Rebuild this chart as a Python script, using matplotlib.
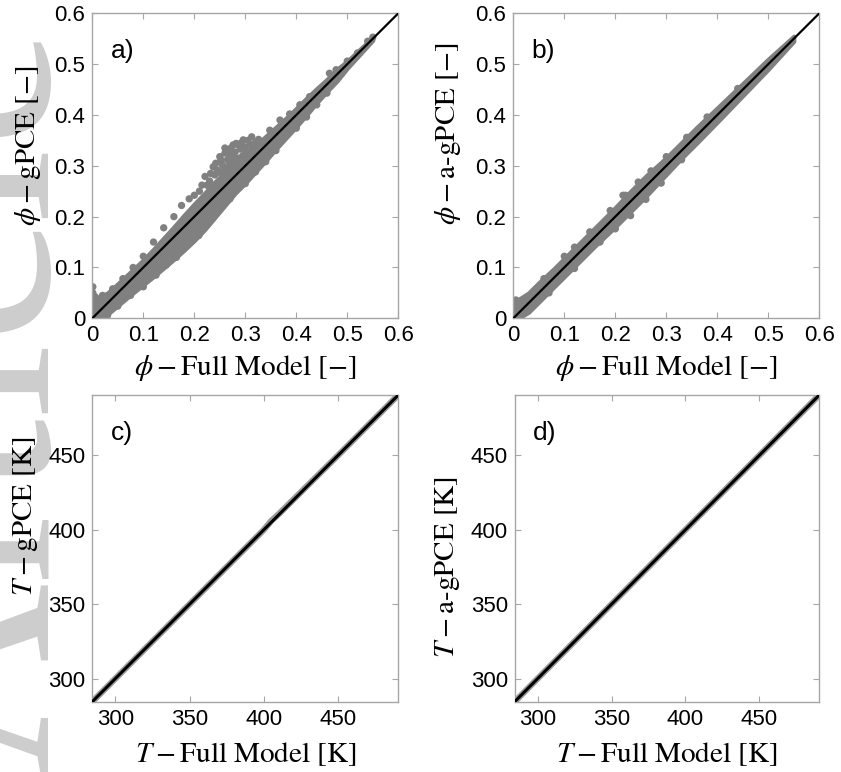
import matplotlib
matplotlib.use("Agg")
import matplotlib.pyplot as plt

plt.rcParams['font.family'] = ['Liberation Sans', 'DejaVu Sans']
plt.rcParams['mathtext.fontset'] = 'stix'

# ---------------- data ----------------
# panel a: phi, gPCE vs full model -- dense core envelope + individual points
a_env_x  = [0.00, 0.01, 0.03, 0.05, 0.08, 0.10, 0.12, 0.14, 0.16, 0.18, 0.20, 0.22, 0.24, 0.26, 0.28, 0.30, 0.32, 0.34, 0.36, 0.38, 0.40, 0.42, 0.44, 0.46, 0.48, 0.50, 0.55]
a_env_hi = [0.040, 0.040, 0.050, 0.068, 0.096, 0.115, 0.136, 0.158, 0.180, 0.203, 0.225, 0.246, 0.268, 0.288, 0.306, 0.322, 0.340, 0.358, 0.376, 0.394, 0.413, 0.433, 0.452, 0.470, 0.490, 0.506, 0.553]
a_env_lo = [0.000, 0.000, 0.008, 0.025, 0.050, 0.066, 0.082, 0.099, 0.116, 0.134, 0.153, 0.174, 0.198, 0.222, 0.246, 0.266, 0.288, 0.310, 0.333, 0.355, 0.377, 0.400, 0.424, 0.446, 0.467, 0.492, 0.547]
a_pts_x = [0.001, 0.001, 0.002, 0.002, 0.001, 0.003, 0.004, 0.006,
           0.3125, 0.296, 0.276, 0.260, 0.250, 0.237, 0.221, 0.215, 0.326, 0.348, 0.368, 0.387, 0.407, 0.426, 0.465, 0.478,
           0.270, 0.280, 0.290, 0.300, 0.285, 0.265, 0.255, 0.245, 0.275, 0.295, 0.310, 0.320, 0.305, 0.260, 0.240, 0.230, 0.250, 0.268, 0.288,
           0.272, 0.282, 0.292, 0.302, 0.312, 0.262, 0.252, 0.242, 0.232, 0.226, 0.258, 0.278, 0.298,
           0.175, 0.190, 0.200, 0.210, 0.225, 0.160, 0.140, 0.120, 0.100, 0.080, 0.060, 0.040, 0.020,
           0.209, 0.200, 0.180, 0.165, 0.220, 0.250, 0.270, 0.300, 0.320, 0.340, 0.360, 0.400, 0.420, 0.440, 0.460, 0.145, 0.125, 0.100, 0.075, 0.050, 0.030,
           0.500, 0.520, 0.540, 0.550]
a_pts_y = [0.062, 0.050, 0.040, 0.030, 0.020, 0.010, 0.042, 0.042,
           0.357, 0.351, 0.341, 0.335, 0.318, 0.298, 0.279, 0.262, 0.352, 0.370, 0.390, 0.402, 0.420, 0.436, 0.482, 0.489,
           0.322, 0.327, 0.333, 0.337, 0.342, 0.312, 0.302, 0.292, 0.308, 0.320, 0.342, 0.346, 0.350, 0.325, 0.282, 0.270, 0.287, 0.300, 0.315,
           0.335, 0.344, 0.345, 0.328, 0.330, 0.330, 0.312, 0.305, 0.285, 0.262, 0.295, 0.318, 0.310,
           0.222, 0.235, 0.242, 0.250, 0.262, 0.200, 0.178, 0.150, 0.122, 0.100, 0.078, 0.058, 0.045,
           0.163, 0.170, 0.142, 0.120, 0.180, 0.215, 0.235, 0.265, 0.288, 0.308, 0.330, 0.374, 0.396, 0.420, 0.443, 0.105, 0.085, 0.062, 0.045, 0.024, 0.006,
           0.506, 0.522, 0.545, 0.553]

# panel b: phi, a-gPCE vs full model
b_env_x  = [0.00, 0.01, 0.03, 0.05, 0.08, 0.10, 0.13, 0.16, 0.20, 0.23, 0.26, 0.30, 0.33, 0.36, 0.40, 0.45, 0.50, 0.55]
b_env_hi = [0.035, 0.037, 0.050, 0.070, 0.098, 0.118, 0.148, 0.178, 0.218, 0.250, 0.280, 0.316, 0.346, 0.376, 0.414, 0.462, 0.510, 0.555]
b_env_lo = [0.000, 0.000, 0.012, 0.032, 0.062, 0.082, 0.112, 0.142, 0.180, 0.210, 0.240, 0.283, 0.315, 0.345, 0.386, 0.438, 0.490, 0.545]
b_pts_x = [0.002, 0.003, 0.005, 0.06, 0.12, 0.15, 0.19, 0.215, 0.245, 0.27, 0.30, 0.34, 0.07, 0.12, 0.17, 0.20, 0.23, 0.26, 0.29, 0.33, 0.10, 0.22, 0.38, 0.44]
b_pts_y = [0.032, 0.022, 0.036, 0.078, 0.140, 0.170, 0.212, 0.242, 0.268, 0.290, 0.318, 0.356, 0.050, 0.098, 0.150, 0.176, 0.202, 0.234, 0.266, 0.312, 0.122, 0.242, 0.396, 0.452]

# panels c, d: temperature
c_full = [284.5, 300.0, 350.0, 400.0, 405.0, 410.0, 450.0, 490.5]
c_gpce = [284.5, 300.0, 350.0, 400.0, 406.0, 410.5, 450.0, 490.5]
d_full = [284.5, 300.0, 350.0, 400.0, 450.0, 490.5]
d_agpce = [284.5, 300.0, 350.0, 400.0, 450.0, 490.5]

phi_ticks = [0, 0.1, 0.2, 0.3, 0.4, 0.5, 0.6]
phi_ticklabels = ['0', '0.1', '0.2', '0.3', '0.4', '0.5', '0.6']
T_ticks = [300, 350, 400, 450]
T_lim = (284.5, 490.5)

# ---------------- figure ----------------
W, H = 841, 772
fig = plt.figure(figsize=(W / 100, H / 100), dpi=100)

def box(l, t, r, b):
    return [l / W, 1 - b / H, (r - l) / W, (b - t) / H]

ax_a = fig.add_axes(box(92.3, 13.3, 398.3, 318.3))
ax_b = fig.add_axes(box(513.3, 13.3, 819.3, 318.3))
ax_c = fig.add_axes(box(92.3, 395.0, 398.3, 701.7))
ax_d = fig.add_axes(box(514.7, 395.0, 819.3, 701.7))

gray = '#808080'
spine_col = '#a6a6a6'

def style(ax):
    for s in ax.spines.values():
        s.set_color(spine_col)
        s.set_linewidth(1.0)
    ax.tick_params(direction='in', length=4, width=0.8, color=spine_col,
                   top=True, right=True, labelsize=16, labelcolor='black', pad=5)

for ax, ex, elo, ehi, px, py in [(ax_a, a_env_x, a_env_lo, a_env_hi, a_pts_x, a_pts_y),
                                  (ax_b, b_env_x, b_env_lo, b_env_hi, b_pts_x, b_pts_y)]:
    ax.fill_between(ex, elo, ehi, color=gray, lw=3, edgecolor=gray, zorder=2)
    ax.scatter(px, py, s=28, color=gray, edgecolors='none', zorder=2)
    ax.plot([0, 0.6], [0, 0.6], color='black', lw=1.6, zorder=3)
    ax.set_xlim(0, 0.6)
    ax.set_ylim(0, 0.6)
    ax.set_xticks(phi_ticks)
    ax.set_xticklabels(phi_ticklabels)
    ax.set_yticks(phi_ticks)
    ax.set_yticklabels(phi_ticklabels)
    style(ax)

ax_a.set_xlabel(r'$\phi - \mathrm{Full\ Model}\ [-]$', fontsize=21)
ax_a.set_ylabel(r'$\phi - \mathrm{gPCE}\ [-]$', fontsize=21)
ax_b.set_xlabel(r'$\phi - \mathrm{Full\ Model}\ [-]$', fontsize=21)
ax_b.set_ylabel(r'$\phi - \mathrm{a\text{-}gPCE}\ [-]$', fontsize=21)

for ax, tx, ty in [(ax_c, c_full, c_gpce), (ax_d, d_full, d_agpce)]:
    ax.plot(tx, ty, color='#9a9a9a', lw=4.5, solid_capstyle='butt', zorder=2)
    ax.plot(T_lim, T_lim, color='black', lw=2.2, zorder=3)
    ax.set_xlim(*T_lim)
    ax.set_ylim(*T_lim)
    ax.set_xticks(T_ticks)
    ax.set_yticks(T_ticks)
    style(ax)

ax_c.set_xlabel(r'$T - \mathrm{Full\ Model\ [K]}$', fontsize=21)
ax_c.set_ylabel(r'$T - \mathrm{gPCE\ [K]}$', fontsize=21)
ax_d.set_xlabel(r'$T - \mathrm{Full\ Model\ [K]}$', fontsize=21)
ax_d.set_ylabel(r'$T - \mathrm{a\text{-}gPCE\ [K]}$', fontsize=21)

# label positions (axes fraction)
ax_a.xaxis.set_label_coords(0.5, -0.115)
ax_b.xaxis.set_label_coords(0.5, -0.115)
ax_c.xaxis.set_label_coords(0.5, -0.125)
ax_d.xaxis.set_label_coords(0.5, -0.125)
ax_a.yaxis.set_label_coords(-0.160, 0.565)
ax_b.yaxis.set_label_coords(-0.166, 0.605)
ax_c.yaxis.set_label_coords(-0.170, 0.605)
ax_d.yaxis.set_label_coords(-0.172, 0.44)

for ax, lab in [(ax_a, 'a)'), (ax_b, 'b)'), (ax_c, 'c)'), (ax_d, 'd)')]:
    ax.text(0.06, 0.915, lab, transform=ax.transAxes, fontsize=19, va='top', ha='left')

# watermark (baseline placed near the left edge, letters mostly off-page)
fig.text(46 / W, -4 / H, 'Article', rotation=90, rotation_mode='anchor',
         fontsize=195, family='Liberation Serif', color='#cdcdcd',
         ha='left', va='baseline', zorder=-5)

fig.savefig('out.png', dpi=100)
